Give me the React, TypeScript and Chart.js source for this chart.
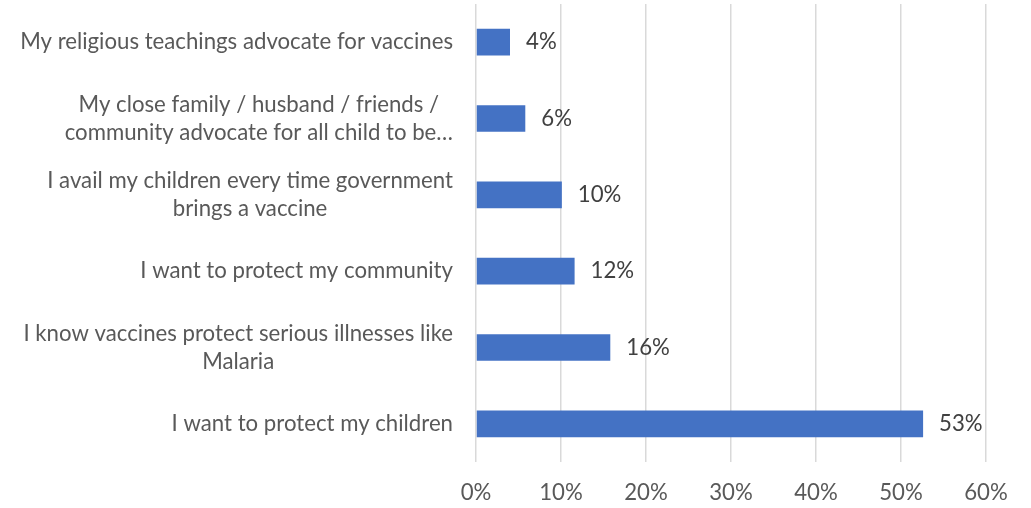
import React, { useEffect, useRef } from "react";
import { Chart, registerables } from "chart.js";

Chart.register(...registerables);

const categories: string[][] = [
  ["My religious teachings advocate for vaccines"],
  ["My close family / husband / friends /", "community advocate for all child to be…"],
  ["I avail my children every time government", "brings a vaccine"],
  ["I want to protect my community"],
  ["I know vaccines protect serious illnesses like", "Malaria"],
  ["I want to protect my children"],
];
const values: number[] = [4.0, 5.8, 10.1, 11.6, 15.8, 52.6];
const xTicks: number[] = [0, 10, 20, 30, 40, 50, 60];

const FONT_FAMILY = "Lato, 'Open Sans', sans-serif";
const LABEL_COLOR = "#595959";
const VALUE_COLOR = "#404040";
const BAR_COLOR = "#4472C4";
const GRID_COLOR = "#d9d9d9";

export default function App() {
  const ref = useRef<HTMLCanvasElement | null>(null);

  useEffect(() => {
    const canvas = ref.current;
    if (!canvas) return;

    // fit the font so the longest single-line label spans ~433px like the reference
    const mctx = document.createElement("canvas").getContext("2d")!;
    mctx.font = `20px ${FONT_FAMILY}`;
    const w = mctx.measureText(categories[0][0]).width;
    const fs = Math.max(14, Math.min(26, (20 * 433) / w));
    const font = `${fs}px ${FONT_FAMILY}`;

    const labelPlugin = {
      id: "customLabels",
      afterDatasetsDraw(chart: any) {
        const ctx = chart.ctx;
        const yScale = chart.scales.y;
        const meta = chart.getDatasetMeta(0);
        ctx.save();
        ctx.font = font;
        ctx.textBaseline = "middle";
        // category labels: block right-aligned, lines centered within block
        const rightEdge = chart.chartArea.left - 23;
        const lh = 28;
        categories.forEach((lines, i) => {
          const cy = yScale.getPixelForValue(i);
          const widths = lines.map((l) => ctx.measureText(l).width);
          const bw = Math.max(...widths);
          const cx = rightEdge - bw / 2;
          ctx.fillStyle = LABEL_COLOR;
          ctx.textAlign = "center";
          lines.forEach((l, j) => {
            const y = cy + (j - (lines.length - 1) / 2) * lh;
            ctx.fillText(l, cx, y);
          });
        });
        // value labels
        ctx.fillStyle = VALUE_COLOR;
        ctx.textAlign = "left";
        meta.data.forEach((bar: any, i: number) => {
          ctx.fillText(`${Math.round(values[i])}%`, bar.x + 16, bar.y);
        });
        ctx.restore();
      },
    };

    const chart = new Chart(canvas, {
      type: "bar",
      data: {
        labels: categories.map((c) => c.join(" ")),
        datasets: [
          {
            data: values,
            backgroundColor: BAR_COLOR,
            borderWidth: 0,
            barPercentage: 0.35,
            categoryPercentage: 1,
          },
        ],
      },
      options: {
        indexAxis: "y",
        animation: false,
        responsive: true,
        maintainAspectRatio: false,
        layout: { padding: { top: 4, right: 45, left: 0, bottom: 0 } },
        plugins: {
          legend: { display: false },
          tooltip: { enabled: false },
          title: { display: false },
        },
        scales: {
          x: {
            min: 0,
            max: 60,
            afterBuildTicks: (scale: any) => {
              scale.ticks = xTicks.map((v) => ({ value: v }));
            },
            afterFit: (scale: any) => {
              scale.height = 46;
            },
            grid: {
              color: GRID_COLOR,
              lineWidth: 1.5,
              drawTicks: false,
            },
            border: { display: false },
            ticks: {
              padding: 18,
              color: LABEL_COLOR,
              font: { family: FONT_FAMILY, size: fs },
              maxRotation: 0,
              callback: (v: any) => `${v}%`,
            },
          },
          y: {
            afterFit: (scale: any) => {
              scale.width = 476;
            },
            grid: { display: false, drawTicks: false },
            border: { display: false },
            ticks: { display: false },
          },
        },
      },
      plugins: [labelPlugin],
    });

    return () => chart.destroy();
  }, []);

  return (
    <div style={{ position: "fixed", left: 0, top: 0, width: 1031, height: 508, background: "#fff" }}>
      <canvas ref={ref} />
    </div>
  );
}
